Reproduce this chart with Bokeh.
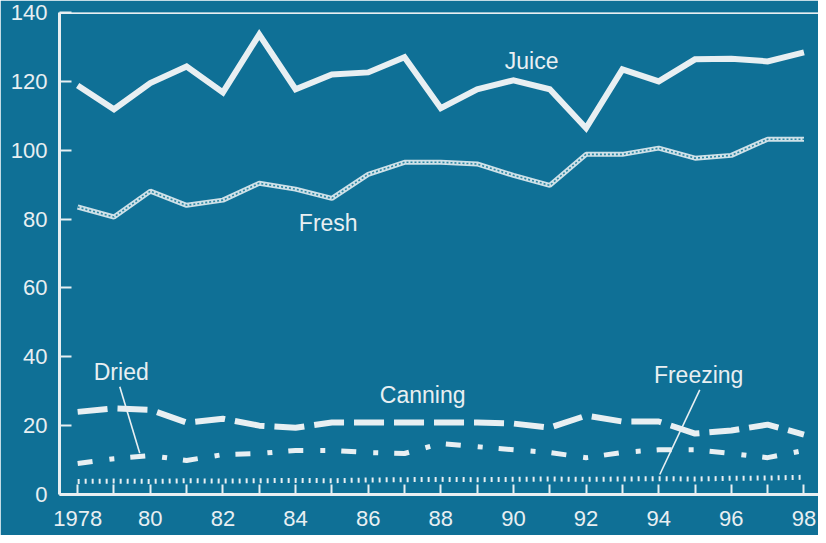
from bokeh.plotting import figure
from bokeh.models import Range1d, FixedTicker, Span, ColumnDataSource
from bokeh.embed import file_html
from bokeh.resources import INLINE
from bokeh.core.properties import value

# ---- data ----
years = list(range(1978, 1999))
juice = [118.8, 111.9, 119.5, 124.3, 116.8, 133.6, 117.7, 122.0, 122.6, 127.0,
         112.2, 117.7, 120.3, 117.7, 106.4, 123.5, 120.0, 126.4, 126.6, 125.8, 128.4]
fresh = [83.5, 80.6, 88.1, 84.0, 85.5, 90.4, 88.7, 86.0, 93.0, 96.5,
         96.5, 96.0, 92.7, 89.8, 98.8, 98.8, 100.6, 97.7, 98.5, 103.2, 103.2]
canning = [24.0, 25.0, 24.6, 20.9, 22.0, 20.0, 19.4, 20.9, 20.9, 20.9,
           20.9, 20.9, 20.6, 19.4, 22.9, 21.2, 21.2, 17.7, 18.6, 20.3, 17.4]
dried = [9.0, 10.4, 11.3, 9.9, 11.6, 11.9, 12.8, 12.8, 12.2, 11.9,
         14.8, 13.9, 13.0, 12.2, 10.7, 12.2, 13.0, 13.0, 11.9, 10.7, 12.8]
freezing = [3.8, 3.9, 3.8, 4.0, 3.9, 4.0, 4.1, 4.0, 4.2, 4.3,
            4.4, 4.3, 4.4, 4.5, 4.4, 4.5, 4.6, 4.5, 4.7, 4.8, 5.0]

y_ticks = [0, 20, 40, 60, 80, 100, 120, 140]
x_tick_labels = {1978: "1978", 1980: "80", 1982: "82", 1984: "84", 1986: "86",
                 1988: "88", 1990: "90", 1992: "92", 1994: "94", 1996: "96", 1998: "98"}

series_names = ["Juice", "Fresh", "Dried", "Canning", "Freezing"]
label_x = [1990.5, 1984.9, 1979.2, 1987.5, 1995.1]
label_y = [126.0, 79.0, 35.7, 29.0, 34.8]

# leader lines (Dried, Freezing)
leader_xs = [[1979.16, 1979.71], [1995.13, 1994.03]]
leader_ys = [[31.3, 12.0], [30.4, 5.8]]

BG = "#0f7096"
FG = "#e8eff2"
FONT = "Liberation Sans"

p = figure(width=818, height=535, output_backend="svg", toolbar_location=None,
           x_range=Range1d(1977.5, 1998.4), y_range=Range1d(0, 140),
           min_border_left=59, min_border_right=0, min_border_top=12, min_border_bottom=41)
p.background_fill_color = BG
p.border_fill_color = BG
p.outline_line_color = None
p.grid.visible = False

# axes
for ax in (p.xaxis[0], p.yaxis[0]):
    ax.axis_line_color = FG
    ax.axis_line_width = 3
    ax.major_tick_line_color = FG
    ax.major_tick_line_width = 2
    ax.major_tick_out = 0
    ax.minor_tick_line_color = None
    ax.major_label_text_color = FG
    ax.major_label_text_font = FONT
    ax.major_label_text_font_size = "22px"

p.xaxis.ticker = FixedTicker(ticks=years)
p.xaxis.major_label_overrides = {yr: x_tick_labels.get(yr, "") for yr in years}
p.xaxis.major_tick_in = 10
p.xaxis.major_label_standoff = 16

p.yaxis.ticker = FixedTicker(ticks=y_ticks)
p.yaxis.major_tick_in = 12
p.yaxis.major_label_standoff = 12

p.add_layout(Span(location=140, dimension="width", line_color=FG, line_width=3))

src = ColumnDataSource(dict(year=years, juice=juice, fresh=fresh, canning=canning,
                            dried=dried, freezing=freezing))

# Juice: solid thick
p.line("year", "juice", source=src, line_color=FG, line_width=6, line_join="miter")
# Fresh: rope-like textured line
p.line("year", "fresh", source=src, line_color="#cfe1e8", line_width=5)
p.line("year", "fresh", source=src, line_color="#2c86a3", line_width=1.6, line_dash="2 2")
# Canning: long dashes
p.line("year", "canning", source=src, line_color=FG, line_width=6, line_dash="30 10")
# Dried: dash-dot
p.line("year", "dried", source=src, line_color=FG, line_width=5, line_dash="15 17 5 16")
# Freezing: dotted
p.line("year", "freezing", source=src, line_color=FG, line_width=5, line_dash="2 5")

# leader lines
p.multi_line(xs=leader_xs, ys=leader_ys, line_color=FG, line_width=1.6)

# series labels
lsrc = ColumnDataSource(dict(x=label_x, y=label_y, t=series_names))
p.text("x", "y", text="t", source=lsrc, text_color=FG, text_font=value(FONT),
       text_font_size="23px", text_align="center", text_baseline="middle")

open("out.html", "w").write(file_html(p, INLINE))
